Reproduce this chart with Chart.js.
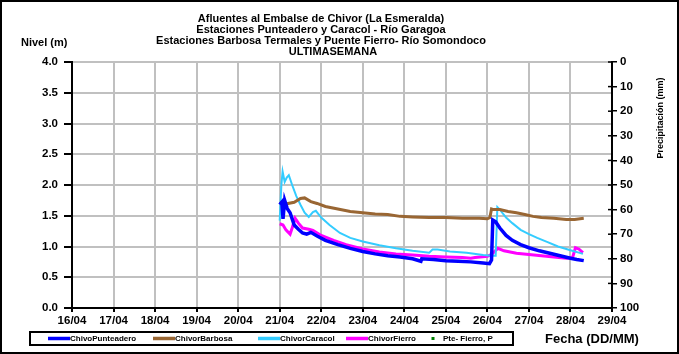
<!DOCTYPE html>
<html>
<head>
<meta charset="utf-8">
<script src="https://cdn.jsdelivr.net/npm/chart.js@4"></script>
<style>
  html, body { margin: 0; padding: 0; background: #fff; }
  canvas { display: block; }
</style>
</head>
<body>
<canvas id="chivor" width="679" height="354"></canvas>
<script>
// Datos (dia de abril, nivel en metros)
const diasEje = [16, 17, 18, 19, 20, 21, 22, 23, 24, 25, 26, 27, 28, 29];

const punteaderoDia = [21.00, 21.05, 21.08, 21.12, 21.18, 21.25, 21.35, 21.45, 21.55, 21.65, 21.75, 21.9, 22.1, 22.4, 22.7, 23.0, 23.3, 23.6, 23.9, 24.2, 24.4, 24.42, 24.7, 25.0, 25.3, 25.6, 25.9, 26.05, 26.1, 26.13, 26.2, 26.3, 26.45, 26.6, 26.8, 27.0, 27.25, 27.5, 27.75, 28.0, 28.15, 28.32];
const punteaderoNivel = [1.68, 1.72, 1.45, 1.75, 1.62, 1.55, 1.35, 1.28, 1.22, 1.20, 1.23, 1.17, 1.10, 1.03, 0.97, 0.92, 0.88, 0.85, 0.83, 0.80, 0.76, 0.80, 0.79, 0.77, 0.76, 0.75, 0.73, 0.72, 0.78, 1.43, 1.40, 1.30, 1.18, 1.10, 1.03, 0.98, 0.93, 0.89, 0.85, 0.81, 0.79, 0.77];

const barbosaDia = [21.0, 21.1, 21.2, 21.35, 21.5, 21.6, 21.75, 21.9, 22.1, 22.4, 22.7, 23.0, 23.3, 23.6, 23.9, 24.2, 24.6, 25.0, 25.4, 25.8, 26.0, 26.06, 26.1, 26.15, 26.3, 26.5, 26.7, 26.9, 27.1, 27.3, 27.6, 27.9, 28.1, 28.32];
const barbosaNivel = [1.72, 1.68, 1.70, 1.72, 1.78, 1.79, 1.73, 1.70, 1.65, 1.61, 1.57, 1.55, 1.53, 1.52, 1.49, 1.48, 1.47, 1.47, 1.46, 1.46, 1.45, 1.47, 1.61, 1.60, 1.60, 1.57, 1.55, 1.52, 1.49, 1.47, 1.46, 1.44, 1.44, 1.46];

const caracolDia = [21.0, 21.04, 21.07, 21.12, 21.17, 21.22, 21.3, 21.4, 21.5, 21.6, 21.7, 21.8, 21.87, 22.0, 22.2, 22.45, 22.7, 23.0, 23.4, 23.8, 24.2, 24.6, 24.68, 24.8, 25.1, 25.5, 25.9, 26.1, 26.2, 26.24, 26.3, 26.45, 26.6, 26.8, 27.0, 27.2, 27.45, 27.7, 28.0, 28.2, 28.3];
const caracolNivel = [1.42, 2.00, 2.22, 2.05, 2.12, 2.16, 2.00, 1.82, 1.68, 1.55, 1.48, 1.56, 1.58, 1.47, 1.35, 1.22, 1.14, 1.08, 1.02, 0.97, 0.93, 0.90, 0.95, 0.95, 0.92, 0.90, 0.86, 0.85, 0.85, 1.64, 1.60, 1.47, 1.38, 1.27, 1.20, 1.14, 1.07, 1.00, 0.94, 0.90, 0.88];

const fierroDia = [21.0, 21.08, 21.15, 21.25, 21.3, 21.37, 21.45, 21.55, 21.7, 21.8, 22.0, 22.3, 22.6, 23.0, 23.4, 23.8, 24.2, 24.6, 25.0, 25.4, 25.6, 25.7, 26.0, 26.1, 26.25, 26.4, 26.7, 27.0, 27.3, 27.6, 27.9, 28.05, 28.12, 28.2, 28.3];
const fierroNivel = [1.37, 1.35, 1.27, 1.20, 1.30, 1.46, 1.38, 1.30, 1.28, 1.26, 1.18, 1.10, 1.03, 0.96, 0.91, 0.88, 0.86, 0.84, 0.83, 0.82, 0.81, 0.82, 0.84, 0.87, 0.97, 0.93, 0.89, 0.87, 0.85, 0.83, 0.81, 0.82, 0.98, 0.96, 0.90];

// Precipitacion Pte. Fierro: sin registros visibles
const precipDia = [];
const precipMm = [];

const TITULO = [
    'Afluentes al Embalse de Chivor (La Esmeralda)',
    'Estaciones Punteadero y Caracol - Río Garagoa',
    'Estaciones Barbosa Termales y Puente Fierro- Río Somondoco',
    'ULTIMASEMANA'
];

function puntos(xs, ys) {
    return xs.map((x, i) => ({ x: x, y: ys[i] }));
}

const FUENTE = '"Liberation Sans", Arial, sans-serif';

// marco, titulos, nombres de ejes y leyenda
const decor = {
    id: 'decor',
    afterDraw(chart) {
        const ctx = chart.ctx;
        const area = chart.chartArea;
        ctx.save();

        ctx.fillStyle = '#000';
        ctx.textAlign = 'center';
        ctx.textBaseline = 'middle';
        ctx.font = 'bold 11px ' + FUENTE;
        const tx = [321, 321, 321, 333];
        TITULO.forEach((t, i) => ctx.fillText(t, tx[i], 19 + i * 11));

        ctx.textAlign = 'left';
        ctx.font = 'bold 11px ' + FUENTE;
        ctx.fillText('Nivel (m)', 21, 43);

        ctx.font = 'bold 13px ' + FUENTE;
        ctx.fillText('Fecha (DD/MM)', 545, 339);

        // titulo eje derecho
        ctx.save();
        ctx.translate(661, 118);
        ctx.rotate(-Math.PI / 2);
        ctx.textAlign = 'center';
        ctx.font = 'bold 9px ' + FUENTE;
        ctx.fillText('Precipitación (mm)', 0, 0);
        ctx.restore();

        // marcas interiores del eje derecho
        const y2 = chart.scales.y2;
        ctx.strokeStyle = '#000';
        ctx.lineWidth = 1.5;
        y2.ticks.forEach(t => {
            const py = y2.getPixelForValue(t.value);
            ctx.beginPath();
            ctx.moveTo(area.right - 4, py);
            ctx.lineTo(area.right, py);
            ctx.stroke();
        });

        // leyenda
        ctx.lineWidth = 2;
        ctx.strokeRect(30, 332, 483, 13);
        const lx = [48, 153, 258, 346, 433];
        ctx.font = 'bold 8px ' + FUENTE;
        chart.data.datasets.forEach((ds, i) => {
            const x = lx[i];
            if (ds.showLine === false) {
                ctx.fillStyle = ds.backgroundColor;
                ctx.fillRect(x - 1.5, 337, 3, 3);
                ctx.fillStyle = '#000';
                ctx.fillText(ds.label, x + 10, 338.5);
            } else {
                ctx.strokeStyle = ds.borderColor;
                ctx.lineWidth = 3.5;
                ctx.beginPath();
                ctx.moveTo(x, 338.5);
                ctx.lineTo(x + 22, 338.5);
                ctx.stroke();
                ctx.fillStyle = '#000';
                ctx.fillText(ds.label, x + 22, 338.5);
            }
        });

        // marco exterior
        ctx.strokeStyle = '#000';
        ctx.lineWidth = 2;
        ctx.strokeRect(1, 1, 677, 352);
        ctx.restore();
    }
};

const fondo = {
    id: 'fondo',
    beforeDraw(chart) {
        const ctx = chart.ctx;
        ctx.save();
        ctx.fillStyle = '#fff';
        ctx.fillRect(0, 0, chart.width, chart.height);
        ctx.restore();
    }
};

document.addEventListener('DOMContentLoaded', () => {
    const serie = (label, xs, ys, color, ancho) => ({
        label: label,
        data: puntos(xs, ys),
        borderColor: color,
        backgroundColor: color,
        borderWidth: ancho,
        pointRadius: 0,
        tension: 0,
        yAxisID: 'y'
    });

    new Chart(document.getElementById('chivor'), {
        type: 'line',
        data: {
            datasets: [
                serie('ChivoPunteadero', punteaderoDia, punteaderoNivel, '#0000FF', 3.5),
                serie('ChivorBarbosa', barbosaDia, barbosaNivel, '#996633', 3),
                serie('ChivorCaracol', caracolDia, caracolNivel, '#33CCFF', 2),
                serie('ChivorFierro', fierroDia, fierroNivel, '#FF00FF', 3),
                {
                    label: 'Pte- Fierro, P',
                    data: puntos(precipDia, precipMm),
                    showLine: false,
                    pointRadius: 1.5,
                    backgroundColor: '#008000',
                    borderColor: '#008000',
                    yAxisID: 'y2'
                }
            ]
        },
        options: {
            responsive: false,
            animation: false,
            layout: { padding: { top: 62, left: 0, right: 0, bottom: 0 } },
            plugins: {
                legend: { display: false },
                title: { display: false },
                tooltip: { enabled: false }
            },
            scales: {
                x: {
                    type: 'linear',
                    min: diasEje[0],
                    max: diasEje[diasEje.length - 1],
                    afterBuildTicks: s => { s.ticks = diasEje.map(v => ({ value: v })); },
                    afterFit: s => { s.height = 46; },
                    border: { color: '#000', width: 2 },
                    grid: { color: '#C0C0C0', lineWidth: 2, tickLength: 4, tickColor: '#000' },
                    ticks: {
                        color: '#000',
                        padding: 2,
                        maxRotation: 0,
                        font: { family: FUENTE, size: 11.5, weight: 'bold' },
                        callback: v => String(v).padStart(2, '0') + '/04'
                    }
                },
                y: {
                    position: 'left',
                    min: 0,
                    max: 4,
                    afterFit: s => { s.width = 72; },
                    border: { color: '#000', width: 2 },
                    grid: {
                        color: '#C0C0C0',
                        lineWidth: 2,
                        tickLength: 8,
                        tickColor: c => (Math.round(c.tick.value * 100) % 50 === 0 ? '#000' : 'rgba(0,0,0,0)')
                    },
                    ticks: {
                        stepSize: 0.25,
                        color: '#000',
                        padding: 6,
                        font: { family: FUENTE, size: 11.5, weight: 'bold' },
                        callback: v => (Math.round(v * 100) % 50 === 0 ? v.toFixed(1) : '')
                    }
                },
                y2: {
                    position: 'right',
                    min: 0,
                    max: 100,
                    reverse: true,
                    afterFit: s => { s.width = 67; },
                    border: { color: '#000', width: 2 },
                    grid: { drawOnChartArea: false, tickLength: 5, tickColor: '#000', lineWidth: 1.5 },
                    ticks: {
                        stepSize: 10,
                        color: '#000',
                        padding: 3,
                        font: { family: FUENTE, size: 11.5, weight: 'bold' }
                    }
                }
            }
        },
        plugins: [fondo, decor]
    });
});
</script>
</body>
</html>
